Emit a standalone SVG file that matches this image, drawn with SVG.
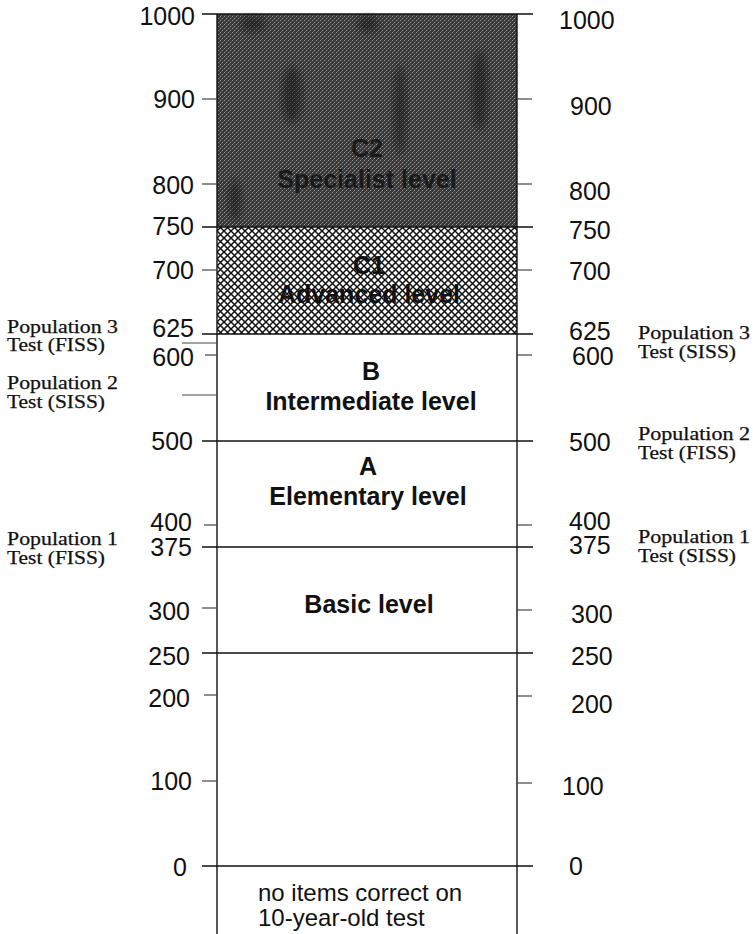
<svg xmlns="http://www.w3.org/2000/svg" width="753" height="934" viewBox="0 0 753 934">
<style>
.num{font-family:"Liberation Sans",Arial,sans-serif;font-size:25px;fill:#111}
.lvl{font-family:"Liberation Sans",Arial,sans-serif;font-size:25px;font-weight:bold;fill:#111;text-anchor:middle}
.pop{font-family:"Liberation Serif","Times New Roman",serif;font-size:18px;fill:#111;stroke:#111;stroke-width:0.25}
.note{font-family:"Liberation Sans",Arial,sans-serif;font-size:24px;fill:#111}
.tick{stroke:#444;stroke-width:1.2;fill:none}
.band{stroke:#111;stroke-width:1.6;fill:none}
.col{stroke:#111;stroke-width:1.4;fill:none}
</style>
<defs>
<pattern id="dark" width="4" height="4" patternUnits="userSpaceOnUse">
<rect width="4" height="4" fill="#383838"/>
<rect x="0" y="0" width="1" height="1" fill="#999"/>
<rect x="2" y="2" width="1" height="1" fill="#999"/>
<rect x="1" y="3" width="1" height="1" fill="#666"/>
<rect x="3" y="1" width="1" height="1" fill="#555"/>
</pattern>
<pattern id="hatch" width="7" height="7" patternUnits="userSpaceOnUse">
<rect width="7" height="7" fill="#fff"/>
<path d="M-1,-1 L8,8 M8,-1 L-1,8" stroke="#111" stroke-width="1.5"/>
</pattern>
<filter id="blur" x="-50%" y="-50%" width="200%" height="200%"><feGaussianBlur stdDeviation="3"/></filter>
</defs>
<rect width="753" height="934" fill="#fff"/>

<g id="band-c2">
<rect x="217" y="14" width="300" height="213" fill="url(#dark)"/>
<g fill="#111" opacity="0.45" filter="url(#blur)">
<ellipse cx="292" cy="95" rx="10" ry="28"/>
<ellipse cx="253" cy="24" rx="12" ry="8"/>
<ellipse cx="368" cy="24" rx="10" ry="8"/>
<ellipse cx="400" cy="110" rx="6" ry="45"/>
<ellipse cx="480" cy="90" rx="8" ry="40"/>
<ellipse cx="235" cy="200" rx="6" ry="20"/>
</g>
<text class="lvl" x="367" y="157" style="fill:#1a1a1a">C2</text>
<text class="lvl" x="367" y="188" style="fill:#1a1a1a">Specialist level</text>
</g>

<g id="band-c1">
<rect x="217" y="227" width="300" height="107" fill="url(#hatch)"/>
<text class="lvl" x="369" y="274">C1</text>
<text class="lvl" x="369" y="303">Advanced level</text>
</g>

<g id="band-b">
<text class="lvl" x="371" y="380">B</text>
<text class="lvl" x="371" y="410">Intermediate level</text>
</g>

<g id="band-a">
<text class="lvl" x="368" y="475">A</text>
<text class="lvl" x="368" y="505">Elementary level</text>
</g>

<g id="band-basic">
<text class="lvl" x="369" y="613">Basic level</text>
</g>

<g id="band-bottom">
<text class="note" x="258" y="901">no items correct on</text>
<text class="note" x="258" y="926">10-year-old test</text>
</g>

<g id="connectors">
<line class="col" x1="217" y1="14" x2="217" y2="934"/>
<line class="col" x1="517" y1="14" x2="517" y2="934"/>
<line class="band" x1="202" y1="14" x2="533" y2="14"/>
<line class="band" x1="202" y1="227" x2="533" y2="227"/>
<line class="band" x1="202" y1="334" x2="533" y2="334"/>
<line class="band" x1="202" y1="441" x2="533" y2="441"/>
<line class="band" x1="202" y1="547" x2="533" y2="547"/>
<line class="band" x1="202" y1="653" x2="533" y2="653"/>
<line class="band" x1="202" y1="866" x2="533" y2="866"/>
<line class="tick" x1="202" y1="99" x2="217" y2="99"/>
<line class="tick" x1="517" y1="99" x2="532" y2="99"/>
<line class="tick" x1="202" y1="184" x2="217" y2="184"/>
<line class="tick" x1="517" y1="184" x2="532" y2="184"/>
<line class="tick" x1="202" y1="270" x2="217" y2="270"/>
<line class="tick" x1="517" y1="270" x2="532" y2="270"/>
<line class="tick" x1="205" y1="355" x2="217" y2="355"/>
<line class="tick" x1="517" y1="355" x2="532" y2="355"/>
<line class="tick" x1="182" y1="343" x2="217" y2="343"/>
<line class="tick" x1="182" y1="395" x2="217" y2="395"/>
<line class="tick" x1="204" y1="525" x2="217" y2="525"/>
<line class="tick" x1="517" y1="525" x2="532" y2="525"/>
<line class="tick" x1="202" y1="608" x2="217" y2="608"/>
<line class="tick" x1="517" y1="610" x2="532" y2="610"/>
<line class="tick" x1="204" y1="695" x2="217" y2="695"/>
<line class="tick" x1="517" y1="696" x2="532" y2="696"/>
<line class="tick" x1="202" y1="781" x2="217" y2="781"/>
<line class="tick" x1="517" y1="783" x2="532" y2="783"/>
</g>

<g id="scale-left" class="num" text-anchor="end">
<text x="195" y="25">1000</text>
<text x="195" y="108">900</text>
<text x="194" y="194">800</text>
<text x="194" y="235">750</text>
<text x="194" y="279">700</text>
<text x="194" y="337">625</text>
<text x="194" y="366">600</text>
<text x="193" y="450">500</text>
<text x="192" y="531">400</text>
<text x="192" y="556">375</text>
<text x="190" y="620">300</text>
<text x="190" y="665">250</text>
<text x="190" y="707">200</text>
<text x="192" y="790">100</text>
<text x="187" y="876">0</text>
</g>

<g id="scale-right" class="num">
<text x="559" y="29">1000</text>
<text x="570" y="115">900</text>
<text x="569" y="200">800</text>
<text x="569" y="239">750</text>
<text x="569" y="280">700</text>
<text x="569" y="340">625</text>
<text x="572" y="365">600</text>
<text x="569" y="451">500</text>
<text x="569" y="530">400</text>
<text x="569" y="554">375</text>
<text x="571" y="623">300</text>
<text x="571" y="665">250</text>
<text x="571" y="713">200</text>
<text x="562" y="795">100</text>
<text x="569" y="875">0</text>
</g>

<g id="pop-left" class="pop">
<text x="7" y="333" textLength="111" lengthAdjust="spacingAndGlyphs">Population 3</text>
<text x="7" y="351" textLength="98" lengthAdjust="spacingAndGlyphs">Test (FISS)</text>
<text x="7" y="389" textLength="111" lengthAdjust="spacingAndGlyphs">Population 2</text>
<text x="7" y="408" textLength="98" lengthAdjust="spacingAndGlyphs">Test (SISS)</text>
<text x="7" y="545" textLength="111" lengthAdjust="spacingAndGlyphs">Population 1</text>
<text x="7" y="564" textLength="98" lengthAdjust="spacingAndGlyphs">Test (FISS)</text>
</g>

<g id="pop-right" class="pop">
<text x="638" y="339" textLength="112" lengthAdjust="spacingAndGlyphs">Population 3</text>
<text x="638" y="358" textLength="98" lengthAdjust="spacingAndGlyphs">Test (SISS)</text>
<text x="638" y="440" textLength="112" lengthAdjust="spacingAndGlyphs">Population 2</text>
<text x="638" y="459" textLength="98" lengthAdjust="spacingAndGlyphs">Test (FISS)</text>
<text x="638" y="543" textLength="112" lengthAdjust="spacingAndGlyphs">Population 1</text>
<text x="638" y="562" textLength="98" lengthAdjust="spacingAndGlyphs">Test (SISS)</text>
</g>
</svg>
